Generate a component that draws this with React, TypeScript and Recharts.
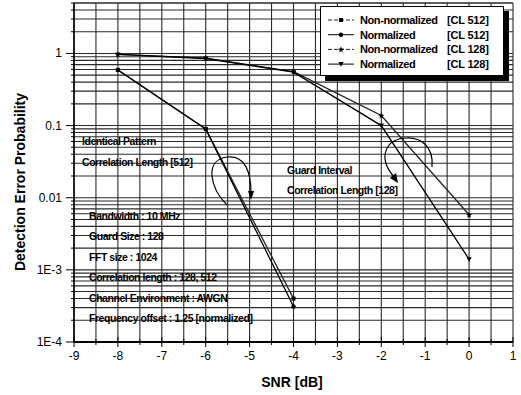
import { Line, LineChart, ReferenceLine, XAxis, YAxis } from "recharts";

const FONT = "Arial, 'Liberation Sans', Helvetica, sans-serif";

// detection error probability vs SNR
const SNR = [-8, -6, -4, -2, 0];
const NON_NORM_512 = [0.59, 0.09, 4.0e-4, null, null];
const NORM_512 = [0.59, 0.09, 3.1e-4, null, null];
const NON_NORM_128 = [0.97, 0.86, 0.56, 0.138, 0.0058];
const NORM_128 = [0.97, 0.85, 0.55, 0.1, 0.0014];

const Y_DECADES = [1e-4, 1e-3, 0.01, 0.1, 1];
const Y_LABELS = ["1E-4", "1E-3", "0.01", "0.1", "1"];

const NOTES_LEFT = [
  "Bandwidth : 10 MHz",
  "Guard Size : 128",
  "FFT size : 1024",
  "Correlation length : 128, 512",
  "Channel Environment : AWGN",
  "Frequency offset : 1.25 [normalized]",
];

type MarkerKind = "square" | "circle" | "star" | "tri";

const SERIES: { key: string; name: string; tag: string; marker: MarkerKind; color: string }[] = [
  { key: "nn512", name: "Non-normalized", tag: "[CL 512]", marker: "square", color: "#222" },
  { key: "n512", name: "Normalized", tag: "[CL 512]", marker: "circle", color: "#000" },
  { key: "nn128", name: "Non-normalized", tag: "[CL 128]", marker: "star", color: "#222" },
  { key: "n128", name: "Normalized", tag: "[CL 128]", marker: "tri", color: "#000" },
];

const data = SNR.map((snr, i) => ({
  snr,
  nn512: NON_NORM_512[i],
  n512: NORM_512[i],
  nn128: NON_NORM_128[i],
  n128: NORM_128[i],
}));

// minor log grid: 1..9 per decade, up to the top of the frame at 5
const yMinor: number[] = [];
for (const d of Y_DECADES) {
  for (let k = 1; k <= 9; k++) {
    const v = +(k * d).toPrecision(3);
    if (v <= 5) yMinor.push(v);
  }
}
const xMinor: number[] = [];
for (let v = -9; v <= 1; v += 0.5) xMinor.push(v);

const W = 521;
const H = 395;

function MarkerGlyph({ cx, cy, kind }: { cx: number; cy: number; kind: MarkerKind }) {
  if (cx == null || cy == null || isNaN(cx) || isNaN(cy)) return null;
  switch (kind) {
    case "square":
      return <rect x={cx - 2} y={cy - 2} width={4} height={4} fill="#000" />;
    case "circle":
      return <circle cx={cx} cy={cy} r={2.2} fill="#000" />;
    case "star":
      return (
        <path
          d={`M${cx},${cy - 3} L${cx + 0.9},${cy - 0.9} L${cx + 3},${cy - 0.6} L${cx + 1.3},${cy + 0.8} L${cx + 1.9},${cy + 3} L${cx},${cy + 1.6} L${cx - 1.9},${cy + 3} L${cx - 1.3},${cy + 0.8} L${cx - 3},${cy - 0.6} L${cx - 0.9},${cy - 0.9} Z`}
          fill="#000"
        />
      );
    default:
      return <path d={`M${cx - 2.6},${cy - 2} L${cx + 2.6},${cy - 2} L${cx},${cy + 2.6} Z`} fill="#000" />;
  }
}

function YTick(props: any) {
  const { x, y, payload } = props;
  const idx = Y_DECADES.findIndex((d) => Math.abs(d - payload.value) < d * 1e-6);
  const major = idx >= 0;
  return (
    <g>
      <line x1={x - (major ? 8 : 3)} x2={x} y1={y} y2={y} stroke="#000" strokeWidth={1} />
      {major && (
        <text x={x - 12} y={y} dy={4} textAnchor="end" fontFamily={FONT} fontSize={12} fill="#000">
          {Y_LABELS[idx]}
        </text>
      )}
    </g>
  );
}

function XTick(props: any) {
  const { x, y, payload } = props;
  const major = Number.isInteger(payload.value);
  return (
    <g>
      <line x1={x} x2={x} y1={y - (major ? 5 : 3)} y2={y + (major ? 5 : 3)} stroke="#000" strokeWidth={1} />
      {major && (
        <text x={x} y={y + 18} textAnchor="middle" fontFamily={FONT} fontSize={12} fill="#000">
          {payload.value}
        </text>
      )}
    </g>
  );
}

function LegendBox() {
  return (
    <div
      style={{
        position: "absolute",
        left: 320,
        top: 6,
        width: 182,
        height: 68,
        background: "#fff",
        border: "1px solid #000",
        boxShadow: "5px 5px 0 #000",
      }}
    >
      <svg width={182} height={68} style={{ display: "block" }}>
        {SERIES.map((s, i) => {
          const cy = 13 + i * 14.7;
          return (
            <g key={s.key}>
              <line
                x1={7}
                x2={33}
                y1={cy}
                y2={cy}
                stroke={s.color}
                strokeWidth={1}
                strokeDasharray={s.color === "#000" ? undefined : "4 2"}
              />
              <MarkerGlyph cx={20} cy={cy} kind={s.marker} />
              <text x={39} y={cy + 4} fontFamily={FONT} fontSize={11} fontWeight="bold" letterSpacing={-0.4} fill="#000">
                {s.name}
              </text>
              <text x={126} y={cy + 4} fontFamily={FONT} fontSize={11} fontWeight="bold" letterSpacing={-0.2} fill="#000">
                {s.tag}
              </text>
            </g>
          );
        })}
      </svg>
    </div>
  );
}

const noteStyle = {
  fontFamily: FONT,
  fontSize: 10.5,
  fontWeight: "bold" as const,
  letterSpacing: -0.45,
  fill: "#000",
};

export default function App() {
  return (
    <div style={{ position: "absolute", left: 0, top: 0, width: W, height: H, background: "#fff" }}>
      <LineChart width={W} height={H} data={data} margin={{ top: 3, right: 8, left: 0, bottom: 0 }}>
        {yMinor.map((v) => (
          <ReferenceLine key={`h${v}`} y={v} stroke="#2a2a2a" strokeWidth={1.1} />
        ))}
        <ReferenceLine y={5} stroke="#2a2a2a" strokeWidth={1.1} />
        {xMinor.map((v) => (
          <ReferenceLine key={`v${v}`} x={v} stroke="#2a2a2a" strokeWidth={1.1} />
        ))}
        <XAxis
          dataKey="snr"
          type="number"
          domain={[-9, 1]}
          ticks={xMinor}
          interval={0}
          height={53}
          tickSize={0}
          tickMargin={0}
          tickLine={false}
          tick={<XTick />}
          axisLine={{ stroke: "#000", strokeWidth: 2 }}
        />
        <YAxis
          type="number"
          scale="log"
          domain={[1e-4, 5]}
          allowDataOverflow
          ticks={yMinor}
          interval={0}
          width={74}
          tickSize={0}
          tickMargin={0}
          tickLine={false}
          tick={<YTick />}
          axisLine={{ stroke: "#000", strokeWidth: 1.5 }}
        />
        {SERIES.map((s) => (
          <Line
            key={s.key}
            dataKey={s.key}
            name={`${s.name} ${s.tag}`}
            type="linear"
            stroke={s.color}
            strokeWidth={1.3}
            connectNulls={false}
            dot={(p: any) => <MarkerGlyph key={`${s.key}${p.index}`} cx={p.cx} cy={p.cy} kind={s.marker} />}
            activeDot={false}
            isAnimationActive={false}
          />
        ))}
      </LineChart>
      <svg width={W} height={H} style={{ position: "absolute", left: 0, top: 0, pointerEvents: "none" }}>
        <text
          transform="translate(25,182) rotate(-90)"
          textAnchor="middle"
          fontFamily={FONT}
          fontSize={14}
          fontWeight="bold"
          fill="#000"
        >
          Detection Error Probability
        </text>
        <text x={292} y={387} textAnchor="middle" fontFamily={FONT} fontSize={14} fontWeight="bold" fill="#000">
          SNR [dB]
        </text>

        <text x={82} y={145} {...noteStyle}>Identical Pattern</text>
        <text x={82} y={166} {...noteStyle}>Correlation Length [512]</text>
        <text x={287} y={174} {...noteStyle}>Guard Interval</text>
        <text x={287} y={194} {...noteStyle}>Correlation Length [128]</text>
        {NOTES_LEFT.map((t, i) => (
          <text key={t} x={89} y={220 + i * 20.4} {...noteStyle}>
            {t}
          </text>
        ))}

        {/* curved pointer for the CL 512 pair */}
        <path d="M227,205 C210,188 204,160 227,157 C245,155 251,172 251,193" fill="none" stroke="#000" strokeWidth={1.2} />
        <path d="M248,191 L254,191 L251,200 Z" fill="#000" />
        {/* curved pointer for the CL 128 pair */}
        <path d="M432,167 C434,146 420,137 406,138 C386,139 377,157 394,177" fill="none" stroke="#000" strokeWidth={1.2} />
        <path d="M390,178 L396,173 L398,183 Z" fill="#000" />
      </svg>
      <LegendBox />
    </div>
  );
}
